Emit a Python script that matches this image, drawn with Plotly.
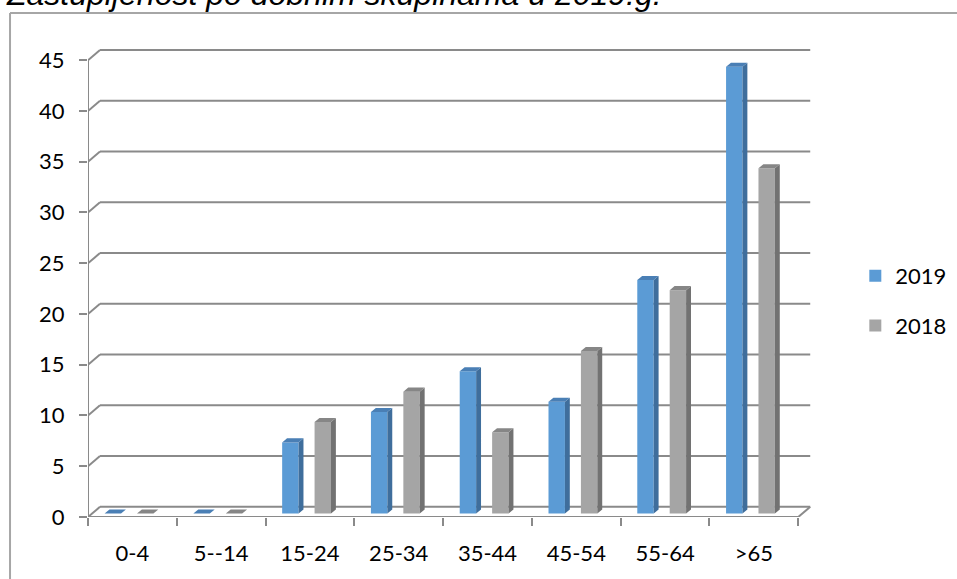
import plotly.graph_objects as go

# Age groups and counts per year
categories = ["0-4", "5--14", "15-24", "25-34", "35-44", "45-54", "55-64", ">65"]
values_2019 = [0, 0, 7, 10, 14, 11, 23, 44]
values_2018 = [0, 0, 9, 12, 8, 16, 22, 34]
y_ticks = [0, 5, 10, 15, 20, 25, 30, 35, 40, 45]

title_text = "Zastupljenost po dobnim skupinama u 2019.g."

# pseudo-3D geometry in axis units
WALL_DX, WALL_DY = 0.135, 1.0      # depth of the back wall
BAR_DX, BAR_DY = 0.055, 0.4        # depth of each bar
BAR_BASE = 0.35                    # bars stand in the middle of the floor
BAR_W = 0.185
SERIES = [
    ("2019", values_2019, 0.187, "#5b9bd5", "#3f6e9c", "#4a7fb5"),
    ("2018", values_2018, 0.552, "#a5a5a5", "#727272", "#868686"),
]
GRID = "#8a8a8a"
FONT = "Lato"

n = len(categories)
fig = go.Figure()

for name, vals, off, front, side, top in SERIES:
    xl = [i + off for i in range(n)]
    # front faces
    fig.add_trace(go.Bar(
        x=[x + BAR_W / 2 for x in xl], y=vals, base=[BAR_BASE] * n,
        width=BAR_W, marker=dict(color=front, line=dict(width=0)),
        name=name, legendgroup=name, hoverinfo="skip",
    ))
    # side faces
    sx, sy = [], []
    for x0, v in zip(xl, vals):
        if v <= 0:
            continue
        xr = x0 + BAR_W
        sx += [xr, xr + BAR_DX, xr + BAR_DX, xr, xr, None]
        sy += [BAR_BASE, BAR_BASE + BAR_DY, v + BAR_BASE + BAR_DY, v + BAR_BASE, BAR_BASE, None]
    fig.add_trace(go.Scatter(
        x=sx, y=sy, mode="lines", fill="toself", fillcolor=side,
        line=dict(width=0, color=side), showlegend=False, hoverinfo="skip",
        legendgroup=name,
    ))
    # top faces
    tx, ty = [], []
    for x0, v in zip(xl, vals):
        xr = x0 + BAR_W
        yt = v + BAR_BASE
        tx += [x0, xr, xr + BAR_DX, x0 + BAR_DX, x0, None]
        ty += [yt, yt, yt + BAR_DY, yt + BAR_DY, yt, None]
    fig.add_trace(go.Scatter(
        x=tx, y=ty, mode="lines", fill="toself", fillcolor=top,
        line=dict(width=0, color=top), showlegend=False, hoverinfo="skip",
        legendgroup=name,
    ))

shapes = []
line = dict(color=GRID, width=2)
for v in y_ticks:
    # back wall gridline and its diagonal on the left wall
    shapes.append(dict(type="line", xref="x", yref="y", layer="below",
                       x0=WALL_DX, x1=n + WALL_DX, y0=v + WALL_DY, y1=v + WALL_DY, line=line))
    shapes.append(dict(type="line", xref="x", yref="y", layer="below",
                       x0=0, x1=WALL_DX, y0=v, y1=v + WALL_DY, line=line))
# floor front edge, right edge and front vertical axis
shapes.append(dict(type="line", xref="x", yref="y", layer="below",
                   x0=0, x1=n, y0=0, y1=0, line=line))
shapes.append(dict(type="line", xref="x", yref="y", layer="below",
                   x0=n, x1=n + WALL_DX, y0=0, y1=WALL_DY, line=line))
shapes.append(dict(type="line", xref="x", yref="y", layer="below",
                   x0=0, x1=0, y0=0, y1=y_ticks[-1], line=line))
# outer chart frame
frame = dict(color="#a6a6a6", width=2)
shapes.append(dict(type="line", xref="paper", yref="paper",
                   x0=-0.1071, x1=1.2, y0=1.0701, y1=1.0701, line=frame))
shapes.append(dict(type="line", xref="paper", yref="paper",
                   x0=-0.1071, x1=-0.1071, y0=1.0701, y1=-0.2, line=frame))

fig.update_layout(
    width=957, height=579,
    margin=dict(l=88, r=141, t=46, b=62, autoexpand=False),
    paper_bgcolor="white", plot_bgcolor="white",
    barmode="overlay",
    shapes=shapes,
    font=dict(family=FONT, size=22, color="#000000"),
    xaxis=dict(
        range=[0, n + 0.2], showgrid=False, zeroline=False, showline=False,
        tickmode="array", tickvals=[i + 0.5 for i in range(n)], ticktext=categories,
        ticks="", ticklabelstandoff=21,
        minor=dict(tickmode="linear", tick0=0, dtick=1, ticks="outside",
                   ticklen=8, tickwidth=2, tickcolor=GRID, showgrid=False),
        fixedrange=True,
    ),
    yaxis=dict(
        range=[0, 46.4], showgrid=False, zeroline=False, showline=False,
        tickmode="array", tickvals=y_ticks, ticks="outside", ticklen=8,
        tickwidth=2, tickcolor=GRID, ticklabelstandoff=10, fixedrange=True,
    ),
    legend=dict(
        x=1.054, y=0.4586, xanchor="left", yanchor="middle",
        font=dict(family=FONT, size=22), tracegroupgap=18,
        bgcolor="rgba(0,0,0,0)", borderwidth=0,
    ),
    annotations=[dict(
        text=title_text, xref="paper", yref="paper", x=-0.114, y=1.0695,
        xanchor="left", yanchor="bottom", showarrow=False, borderpad=0,
        font=dict(family="Liberation Sans", size=32, color="#000000", style="italic"),
    )],
    showlegend=True,
)

fig.write_html("out.html")
